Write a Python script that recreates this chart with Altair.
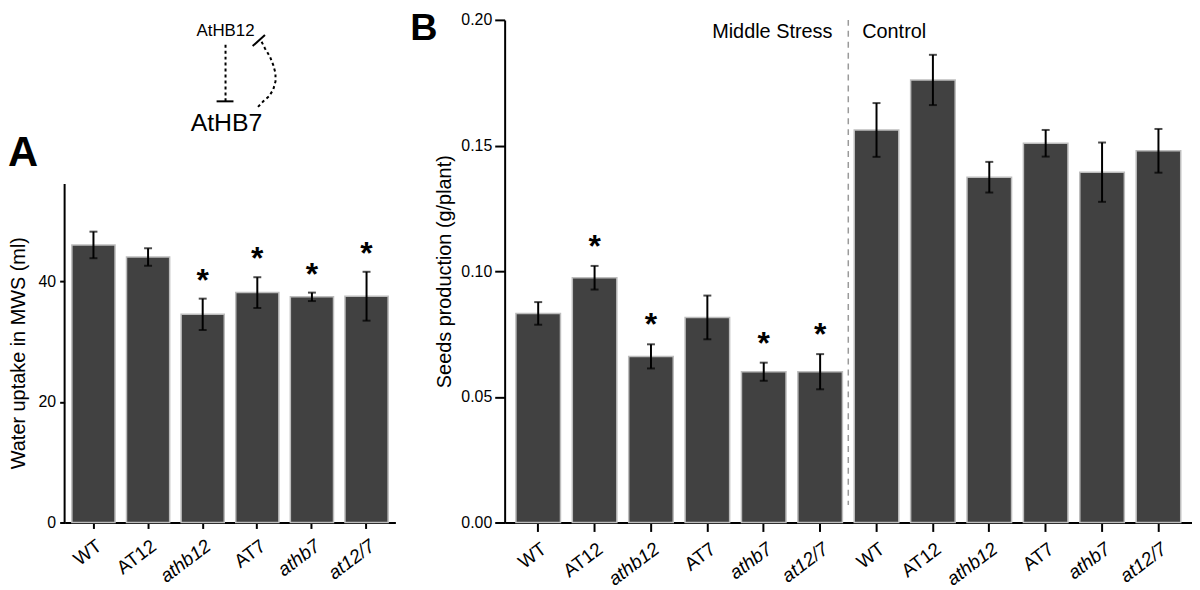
import altair as alt
import pandas as pd

FONT = "Liberation Sans"

# ---------------- data ----------------
genotypes = ["WT", "AT12", "athb12", "AT7", "athb7", "at12/7"]

# Panel A: water uptake in MWS (ml)
water_mean = [46.0, 44.0, 34.5, 38.1, 37.4, 37.5]
water_err = [2.2, 1.45, 2.6, 2.55, 0.7, 4.05]
water_sig = [False, False, True, True, True, True]
water_axis_top = 56.1

# Panel B: seeds production (g/plant)
groups = ["Middle Stress", "Control"]
stress_mean = [0.0832, 0.0974, 0.0661, 0.0816, 0.0600, 0.0600]
stress_err = [0.0045, 0.0047, 0.0048, 0.0087, 0.0036, 0.0070]
stress_sig = [False, True, True, False, True, True]
control_mean = [0.1562, 0.1761, 0.1374, 0.1509, 0.1394, 0.1479]
control_err = [0.0107, 0.0100, 0.0061, 0.0053, 0.0118, 0.0087]
control_sig = [False, False, False, False, False, False]

# Diagram (AtHB12 -| AtHB7 -| AtHB12), drawn in its own small coordinate frame
diag_curve_x = [198.3, 201.7, 206.7, 210.0, 212.3, 212.3, 210.0, 205.7, 200.0, 194.3]
diag_curve_y = [22.0, 28.7, 37.0, 45.3, 53.7, 62.0, 70.3, 77.0, 82.0, 88.0]
diag_dotted = {"x": [162], "y": [25], "x2": [162], "y2": [82]}
diag_bars = {"x": [153, 189.3], "y": [82, 26.3], "x2": [170, 201.7], "y2": [82, 15.3]}
diag_texts = ["AtHB12", "AtHB7"]
diag_text_x = [162, 163]
diag_text_y = [11, 104]
diag_text_size = [17, 25]

# ---------------- frames ----------------
dfA = pd.DataFrame({"genotype": genotypes, "mean": water_mean, "err": water_err, "sig": water_sig})
dfA["lo"] = dfA["mean"] - dfA["err"]
dfA["hi"] = dfA["mean"] + dfA["err"]

rows = []
for g, means, errs, sigs in [(groups[0], stress_mean, stress_err, stress_sig),
                             (groups[1], control_mean, control_err, control_sig)]:
    for gen, m, e, s in zip(genotypes, means, errs, sigs):
        rows.append({"group": g, "genotype": gen, "key": f"{g}|{gen}",
                     "mean": m, "lo": m - e, "hi": m + e, "sig": s})
dfB = pd.DataFrame(rows)
keysB = list(dfB["key"])

BAR_FILL = "#414141"
BAR_STROKE = "#bdbdbd"
XLAB = dict(labelAngle=-37, labelAlign="right", labelBaseline="middle",
            labelFontSize=19, labelPadding=15, labelOffset=6)

# ---------------- panel A (+ diagram, in the same plot frame) ----------------
A_W, H = 333, 506          # shared plot height of both panels
A_TOP_VALUE = 83.3          # value at the very top of the frame (axis line stops at water_axis_top)
xA = alt.X("genotype:N", sort=genotypes,
           scale=alt.Scale(paddingInner=0.21, paddingOuter=0.133),
           axis=alt.Axis(title=None, tickSize=6, **XLAB,
                         labelFontStyle={"condition": {"test": "indexof(datum.value, 'a') == 0",
                                                       "value": "italic"}, "value": "normal"}))
A_TITLE = "Water uptake in MWS (ml)"
yA_scale = alt.Scale(domain=[0, A_TOP_VALUE], nice=False)
yA_axis = alt.Axis(values=[0, 20, 40], tickSize=5, labelPadding=4, titlePadding=10,
                   domain=False, titleY=335)

baseA = alt.Chart(dfA).encode(x=xA)
barsA = baseA.mark_bar(color=BAR_FILL, stroke=BAR_STROKE, strokeWidth=1.5).encode(
    y=alt.Y("mean:Q", scale=yA_scale, axis=yA_axis, title=A_TITLE))
errA = baseA.mark_rule(color="black", strokeWidth=2).encode(
    y=alt.Y("lo:Q", title=A_TITLE), y2="hi:Q")
capLoA = baseA.mark_tick(color="black", thickness=2, size=8).encode(y=alt.Y("lo:Q", title=A_TITLE))
capHiA = baseA.mark_tick(color="black", thickness=2, size=8).encode(y=alt.Y("hi:Q", title=A_TITLE))
starA = baseA.transform_filter("datum.sig").mark_text(
    text="*", fontSize=32, fontWeight="bold", dy=-8, baseline="alphabetic").encode(
    y=alt.Y("hi:Q", title=A_TITLE))
axisLineA = alt.Chart(pd.DataFrame({"bottom": [0.0], "top": [water_axis_top]})).mark_rule(
    color="black", strokeWidth=2).encode(
    x=alt.value(0), y=alt.Y("bottom:Q", title=A_TITLE), y2="top:Q")
panelA = alt.layer(barsA, errA, capLoA, capHiA, starA, axisLineA)

dx_scale = alt.Scale(domain=[0, A_W], nice=False, zero=False)
dy_scale = alt.Scale(domain=[0, H], nice=False, zero=False, reverse=True)
curve_df = pd.DataFrame({"x": diag_curve_x, "y": diag_curve_y, "i": list(range(len(diag_curve_x)))})
curve = alt.Chart(curve_df).mark_line(color="black", strokeWidth=2, strokeDash=[3, 3]).encode(
    x=alt.X("x:Q", scale=dx_scale, axis=None), y=alt.Y("y:Q", scale=dy_scale, axis=None), order="i:Q")
dotted = alt.Chart(pd.DataFrame(diag_dotted)).mark_rule(color="black", strokeWidth=2, strokeDash=[3, 3]).encode(
    x=alt.X("x:Q", scale=dx_scale, axis=None), y=alt.Y("y:Q", scale=dy_scale, axis=None), x2="x2:Q", y2="y2:Q")
tbars = alt.Chart(pd.DataFrame(diag_bars)).mark_rule(color="black", strokeWidth=2).encode(
    x=alt.X("x:Q", scale=dx_scale, axis=None), y=alt.Y("y:Q", scale=dy_scale, axis=None), x2="x2:Q", y2="y2:Q")
dtext = alt.Chart(pd.DataFrame({"t": diag_texts, "x": diag_text_x, "y": diag_text_y, "s": diag_text_size})).mark_text(
    baseline="middle", align="center", color="black").encode(
    x=alt.X("x:Q", scale=dx_scale, axis=None), y=alt.Y("y:Q", scale=dy_scale, axis=None),
    text="t:N", size=alt.Size("s:Q", scale=None, legend=None))
letterA = alt.Chart(pd.DataFrame({"t": ["A"], "x": [-57], "y": [147]})).mark_text(
    fontSize=42, fontWeight="bold", align="left", baseline="alphabetic", color="black").encode(
    x=alt.X("x:Q", scale=dx_scale, axis=None), y=alt.Y("y:Q", scale=dy_scale, axis=None), text="t:N")
diagram = alt.layer(curve, dotted, tbars, dtext, letterA)

leftPanel = alt.layer(panelA, diagram).resolve_scale(x="independent", y="independent").properties(
    width=A_W, height=H)

# ---------------- panel B ----------------
B_W = 692
xB = alt.X("key:N", sort=keysB,
           scale=alt.Scale(paddingInner=0.21, paddingOuter=0.2),
           axis=alt.Axis(title=None, tickSize=9, **XLAB,
                         labelExpr="split(datum.label, '|')[1]",
                         labelFontStyle={"condition": {"test": "indexof(datum.value, '|a') >= 0",
                                                       "value": "italic"}, "value": "normal"}))
B_TITLE = "Seeds production (g/plant)"
yB_scale = alt.Scale(domain=[0, 0.2], nice=False)
yB_axis = alt.Axis(values=[0, 0.05, 0.10, 0.15, 0.20], format=".2f", tickSize=10,
                   labelPadding=3, titlePadding=6)

baseB = alt.Chart(dfB).encode(x=xB)
barsB = baseB.mark_bar(color=BAR_FILL, stroke=BAR_STROKE, strokeWidth=1.5).encode(
    y=alt.Y("mean:Q", scale=yB_scale, axis=yB_axis, title=B_TITLE))
errB = baseB.mark_rule(color="black", strokeWidth=2).encode(
    y=alt.Y("lo:Q", title=B_TITLE), y2="hi:Q")
capLoB = baseB.mark_tick(color="black", thickness=2, size=8).encode(y=alt.Y("lo:Q", title=B_TITLE))
capHiB = baseB.mark_tick(color="black", thickness=2, size=8).encode(y=alt.Y("hi:Q", title=B_TITLE))
starB = baseB.transform_filter("datum.sig").mark_text(
    text="*", fontSize=32, fontWeight="bold", dy=-9, baseline="alphabetic").encode(
    y=alt.Y("hi:Q", title=B_TITLE))

divider = alt.Chart(pd.DataFrame({"key": [f"{groups[1]}|{genotypes[0]}"]})).mark_rule(
    color="#9a9a9a", strokeWidth=1.5, strokeDash=[6, 5], xOffset=-6).encode(
    x=alt.X("key:N", sort=keysB, bandPosition=0),
    y=alt.datum(0.2), y2=alt.datum(0.007))
lblStress = alt.Chart(pd.DataFrame({"key": [f"{groups[0]}|{genotypes[-1]}"], "t": [groups[0]]})).mark_text(
    align="right", baseline="alphabetic", fontSize=20, dx=-10, dy=18, color="black").encode(
    x=alt.X("key:N", sort=keysB, bandPosition=1), y=alt.datum(0.2), text="t:N")
lblControl = alt.Chart(pd.DataFrame({"key": [f"{groups[1]}|{genotypes[0]}"], "t": [groups[1]]})).mark_text(
    align="left", baseline="alphabetic", fontSize=20, dx=8, dy=18, color="black").encode(
    x=alt.X("key:N", sort=keysB, bandPosition=0), y=alt.datum(0.2), text="t:N")
letterB = alt.Chart(pd.DataFrame({"t": ["B"]})).mark_text(
    fontSize=38, fontWeight="bold", align="left", baseline="top", color="black").encode(
    x=alt.value(-95), y=alt.value(-10), text="t:N")

panelB = alt.layer(barsB, errB, capLoB, capHiB, starB, divider, lblStress, lblControl, letterB).properties(
    width=B_W, height=H)

chart = alt.hconcat(leftPanel, panelB, spacing=110, bounds="flush", padding=0).configure(
    font=FONT
).configure_view(stroke=None).configure_axis(
    grid=False, domainColor="black", domainWidth=2, tickColor="black", tickWidth=2,
    labelColor="black", labelFont=FONT, labelFontSize=16, titleFont=FONT, titleFontSize=20,
    titleFontWeight="normal", titleColor="black"
).configure_text(font=FONT)

chart.save("out.html", embed_options={"renderer": "svg", "actions": False})
